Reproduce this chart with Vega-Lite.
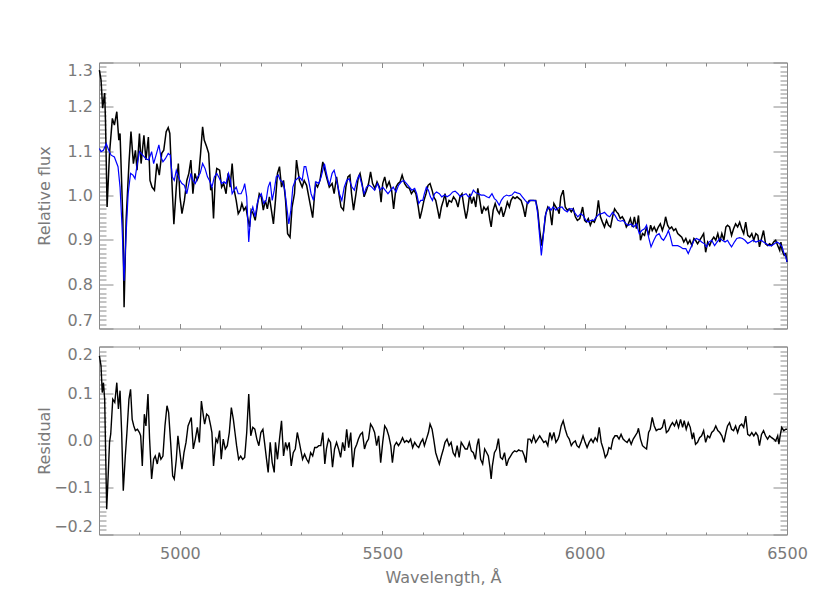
{
  "$schema": "https://vega.github.io/schema/vega-lite/v6.json",
  "padding": {"left": 36, "top": 58.5, "right": 5, "bottom": 5},
  "bounds": "flush",
  "spacing": 18,
  "datasets": {
    "obs": [
      {"w":4801,"f":1.283},{"w":4805,"f":1.261},{"w":4809,"f":1.197},{"w":4814,"f":1.231},{"w":4816,"f":1.170},{"w":4820,"f":0.974},{"w":4826,"f":1.095},{"w":4833,"f":1.174},{"w":4838,"f":1.159},{"w":4844,"f":1.189},{"w":4849,"f":1.125},{"w":4852,"f":1.140},{"w":4859,"f":0.944},{"w":4862,"f":0.748},{"w":4867,"f":0.944},{"w":4874,"f":1.072},{"w":4879,"f":1.144},{"w":4885,"f":1.072},{"w":4890,"f":1.102},{"w":4894,"f":1.057},{"w":4900,"f":1.140},{"w":4904,"f":1.072},{"w":4911,"f":1.136},{"w":4916,"f":1.080},{"w":4922,"f":1.132},{"w":4926,"f":1.034},{"w":4931,"f":1.019},{"w":4937,"f":1.012},{"w":4943,"f":1.072},{"w":4949,"f":1.046},{"w":4955,"f":1.095},{"w":4960,"f":1.102},{"w":4966,"f":1.144},{"w":4971,"f":1.153},{"w":4975,"f":1.140},{"w":4980,"f":1.034},{"w":4985,"f":0.935},{"w":4991,"f":1.019},{"w":4996,"f":1.072},{"w":5000,"f":0.997},{"w":5005,"f":0.959},{"w":5011,"f":0.989},{"w":5017,"f":1.034},{"w":5022,"f":1.050},{"w":5027,"f":1.080},{"w":5032,"f":1.004},{"w":5037,"f":1.050},{"w":5042,"f":1.034},{"w":5046,"f":1.042},{"w":5051,"f":1.095},{"w":5056,"f":1.155},{"w":5060,"f":1.125},{"w":5066,"f":1.110},{"w":5071,"f":1.095},{"w":5076,"f":1.012},{"w":5079,"f":1.019},{"w":5083,"f":0.948},{"w":5087,"f":1.034},{"w":5091,"f":1.061},{"w":5098,"f":1.057},{"w":5103,"f":1.019},{"w":5108,"f":1.027},{"w":5114,"f":1.004},{"w":5119,"f":1.050},{"w":5124,"f":1.019},{"w":5129,"f":1.072},{"w":5134,"f":1.012},{"w":5139,"f":0.989},{"w":5144,"f":0.959},{"w":5149,"f":0.967},{"w":5153,"f":0.982},{"w":5158,"f":0.967},{"w":5163,"f":0.974},{"w":5167,"f":0.952},{"w":5172,"f":0.929},{"w":5176,"f":0.967},{"w":5181,"f":0.959},{"w":5186,"f":0.944},{"w":5192,"f":0.982},{"w":5196,"f":1.004},{"w":5201,"f":0.997},{"w":5206,"f":0.967},{"w":5211,"f":0.989},{"w":5216,"f":0.970},{"w":5221,"f":0.997},{"w":5226,"f":0.967},{"w":5231,"f":0.936},{"w":5236,"f":0.989},{"w":5241,"f":1.050},{"w":5246,"f":1.065},{"w":5251,"f":1.019},{"w":5256,"f":1.034},{"w":5261,"f":0.989},{"w":5266,"f":0.914},{"w":5272,"f":0.906},{"w":5277,"f":0.974},{"w":5283,"f":1.004},{"w":5288,"f":1.080},
      {"w":5295,"f":1.035},{"w":5302,"f":1.019},{"w":5307,"f":1.034},{"w":5313,"f":1.023},{"w":5320,"f":0.989},{"w":5328,"f":0.950},{"w":5335,"f":1.027},{"w":5340,"f":1.019},{"w":5346,"f":1.034},{"w":5353,"f":1.076},{"w":5357,"f":1.061},{"w":5362,"f":1.042},{"w":5369,"f":1.019},{"w":5376,"f":1.027},{"w":5381,"f":1.004},{"w":5387,"f":1.042},{"w":5394,"f":0.997},{"w":5398,"f":0.974},{"w":5404,"f":0.967},{"w":5410,"f":1.019},{"w":5415,"f":1.042},{"w":5420,"f":1.046},{"w":5424,"f":1.004},{"w":5429,"f":0.967},{"w":5435,"f":1.004},{"w":5441,"f":1.042},{"w":5445,"f":1.050},{"w":5450,"f":1.027},{"w":5455,"f":0.997},{"w":5461,"f":1.012},{"w":5466,"f":1.027},{"w":5471,"f":1.053},{"w":5476,"f":1.027},{"w":5482,"f":1.016},{"w":5487,"f":1.031},{"w":5493,"f":1.019},{"w":5497,"f":0.985},{"w":5501,"f":1.027},{"w":5506,"f":1.042},{"w":5511,"f":1.019},{"w":5517,"f":1.031},{"w":5523,"f":1.012},{"w":5528,"f":0.970},{"w":5534,"f":1.019},{"w":5539,"f":1.027},{"w":5544,"f":1.031},{"w":5549,"f":1.046},{"w":5555,"f":1.027},{"w":5561,"f":1.019},{"w":5567,"f":1.016},{"w":5572,"f":1.004},{"w":5578,"f":1.012},{"w":5583,"f":1.004},{"w":5589,"f":0.974},{"w":5593,"f":0.948},{"w":5598,"f":0.967},{"w":5603,"f":0.989},{"w":5608,"f":1.004},{"w":5613,"f":1.023},{"w":5618,"f":1.027},{"w":5623,"f":1.012},{"w":5627,"f":0.997},{"w":5632,"f":0.989},{"w":5637,"f":0.967},{"w":5641,"f":0.948},{"w":5646,"f":0.974},{"w":5651,"f":0.989},{"w":5655,"f":1.004},{"w":5660,"f":0.974},{"w":5665,"f":0.989},{"w":5671,"f":0.985},{"w":5676,"f":0.997},{"w":5682,"f":0.989},{"w":5687,"f":0.974},{"w":5692,"f":0.997},{"w":5697,"f":1.004},{"w":5702,"f":0.974},{"w":5707,"f":0.948},{"w":5711,"f":0.967},{"w":5716,"f":1.004},{"w":5721,"f":0.982},{"w":5726,"f":0.997},{"w":5731,"f":0.974},{"w":5736,"f":1.016},{"w":5741,"f":0.989},{"w":5746,"f":0.959},{"w":5751,"f":0.974},{"w":5756,"f":0.967},{"w":5761,"f":0.974},{"w":5766,"f":0.944},{"w":5769,"f":0.929},{"w":5774,"f":0.967},{"w":5779,"f":0.982},{"w":5784,"f":0.967},{"w":5789,"f":0.959},{"w":5794,"f":0.974},{"w":5799,"f":0.952},{"w":5804,"f":0.967},{"w":5809,"f":0.985},{"w":5814,"f":0.974},{"w":5818,"f":0.989},{"w":5823,"f":0.997},{"w":5828,"f":0.993},{"w":5833,"f":0.997},{"w":5838,"f":0.993},{"w":5843,"f":0.989},{"w":5848,"f":0.974},{"w":5853,"f":0.952},{"w":5858,"f":0.982},{"w":5863,"f":0.989},{"w":5868,"f":0.989},{"w":5873,"f":0.989},{"w":5879,"f":0.989},{"w":5884,"f":0.967},{"w":5889,"f":0.921},{"w":5894,"f":0.887},{"w":5899,"f":0.921},{"w":5904,"f":0.959},{"w":5909,"f":0.974},{"w":5914,"f":0.967},{"w":5919,"f":0.933},{"w":5924,"f":0.982},{"w":5929,"f":0.974},{"w":5934,"f":0.967},
      {"w":5937,"f":0.959},{"w":5941,"f":0.997},{"w":5947,"f":1.012},{"w":5952,"f":0.974},{"w":5957,"f":0.967},{"w":5962,"f":0.970},{"w":5967,"f":0.963},{"w":5972,"f":0.970},{"w":5977,"f":0.952},{"w":5982,"f":0.944},{"w":5988,"f":0.948},{"w":5995,"f":0.974},{"w":6000,"f":0.944},{"w":6004,"f":0.940},{"w":6009,"f":0.948},{"w":6014,"f":0.933},{"w":6019,"f":0.944},{"w":6024,"f":0.940},{"w":6029,"f":0.952},{"w":6034,"f":0.989},{"w":6039,"f":0.952},{"w":6044,"f":0.940},{"w":6049,"f":0.929},{"w":6054,"f":0.944},{"w":6059,"f":0.933},{"w":6064,"f":0.929},{"w":6069,"f":0.952},{"w":6074,"f":0.970},{"w":6079,"f":0.963},{"w":6083,"f":0.959},{"w":6088,"f":0.948},{"w":6093,"f":0.952},{"w":6098,"f":0.944},{"w":6103,"f":0.929},{"w":6108,"f":0.936},{"w":6113,"f":0.948},{"w":6118,"f":0.929},{"w":6123,"f":0.952},{"w":6128,"f":0.925},{"w":6133,"f":0.955},{"w":6138,"f":0.899},{"w":6143,"f":0.914},{"w":6148,"f":0.910},{"w":6153,"f":0.929},{"w":6158,"f":0.910},{"w":6163,"f":0.933},{"w":6167,"f":0.921},{"w":6172,"f":0.929},{"w":6177,"f":0.918},{"w":6182,"f":0.929},{"w":6187,"f":0.936},{"w":6192,"f":0.921},{"w":6197,"f":0.936},{"w":6200,"f":0.952},{"w":6205,"f":0.933},{"w":6210,"f":0.925},{"w":6215,"f":0.929},{"w":6220,"f":0.921},{"w":6225,"f":0.925},{"w":6230,"f":0.914},{"w":6235,"f":0.910},{"w":6240,"f":0.906},{"w":6245,"f":0.895},{"w":6250,"f":0.903},{"w":6255,"f":0.891},{"w":6260,"f":0.899},{"w":6265,"f":0.887},{"w":6270,"f":0.903},{"w":6274,"f":0.899},{"w":6279,"f":0.891},{"w":6284,"f":0.899},{"w":6289,"f":0.906},{"w":6294,"f":0.914},{"w":6299,"f":0.872},{"w":6304,"f":0.895},{"w":6309,"f":0.887},{"w":6314,"f":0.899},{"w":6319,"f":0.906},{"w":6324,"f":0.899},{"w":6329,"f":0.914},{"w":6334,"f":0.895},{"w":6339,"f":0.914},{"w":6344,"f":0.899},{"w":6349,"f":0.929},{"w":6353,"f":0.933},{"w":6358,"f":0.929},{"w":6363,"f":0.910},{"w":6368,"f":0.925},{"w":6373,"f":0.936},{"w":6378,"f":0.929},{"w":6383,"f":0.940},{"w":6388,"f":0.925},{"w":6393,"f":0.914},{"w":6398,"f":0.940},{"w":6403,"f":0.910},{"w":6408,"f":0.906},{"w":6413,"f":0.914},{"w":6418,"f":0.899},{"w":6423,"f":0.914},{"w":6428,"f":0.910},{"w":6432,"f":0.884},{"w":6437,"f":0.903},{"w":6442,"f":0.921},{"w":6447,"f":0.891},{"w":6452,"f":0.887},{"w":6457,"f":0.891},{"w":6462,"f":0.887},{"w":6467,"f":0.895},{"w":6472,"f":0.899},{"w":6477,"f":0.887},{"w":6482,"f":0.876},{"w":6485,"f":0.895},{"w":6488,"f":0.876},{"w":6493,"f":0.865},{"w":6497,"f":0.869},{"w":6500,"f":0.850}
    ],
    "model": [
      {"w":4801,"f":1.106},{"w":4805,"f":1.099},{"w":4811,"f":1.102},{"w":4818,"f":1.117},{"w":4824,"f":1.102},{"w":4830,"f":1.091},{"w":4838,"f":1.087},{"w":4847,"f":1.065},{"w":4852,"f":1.019},{"w":4857,"f":0.929},{"w":4862,"f":0.808},{"w":4867,"f":0.914},{"w":4872,"f":1.004},{"w":4878,"f":1.050},{"w":4884,"f":1.046},{"w":4889,"f":1.038},{"w":4894,"f":1.068},{"w":4900,"f":1.099},{"w":4908,"f":1.091},{"w":4916,"f":1.083},{"w":4923,"f":1.080},{"w":4930,"f":1.099},{"w":4935,"f":1.072},{"w":4941,"f":1.091},{"w":4948,"f":1.114},{"w":4953,"f":1.087},{"w":4958,"f":1.076},{"w":4964,"f":1.083},{"w":4971,"f":1.095},{"w":4976,"f":1.091},{"w":4981,"f":1.042},{"w":4986,"f":1.034},{"w":4991,"f":1.057},{"w":4995,"f":1.046},{"w":5000,"f":1.034},{"w":5005,"f":1.027},{"w":5011,"f":1.023},{"w":5017,"f":1.004},{"w":5022,"f":1.027},{"w":5027,"f":1.050},{"w":5032,"f":1.034},{"w":5038,"f":1.027},{"w":5044,"f":1.042},{"w":5050,"f":1.050},{"w":5056,"f":1.072},{"w":5062,"f":1.061},{"w":5068,"f":1.042},{"w":5073,"f":1.034},{"w":5079,"f":1.019},{"w":5085,"f":1.042},{"w":5091,"f":1.050},{"w":5098,"f":1.038},{"w":5103,"f":1.027},{"w":5109,"f":1.031},{"w":5114,"f":1.027},{"w":5120,"f":1.050},{"w":5125,"f":1.034},{"w":5129,"f":1.004},{"w":5134,"f":1.012},{"w":5139,"f":1.019},{"w":5144,"f":1.004},{"w":5151,"f":1.004},{"w":5157,"f":1.016},{"w":5160,"f":1.027},{"w":5165,"f":0.997},{"w":5170,"f":0.895},{"w":5175,"f":0.959},{"w":5180,"f":0.974},{"w":5186,"f":0.952},{"w":5191,"f":0.982},{"w":5196,"f":0.997},{"w":5201,"f":1.004},{"w":5207,"f":0.982},{"w":5213,"f":0.989},{"w":5218,"f":1.019},{"w":5223,"f":1.031},{"w":5228,"f":0.989},{"w":5233,"f":1.012},{"w":5238,"f":1.042},{"w":5243,"f":1.046},{"w":5248,"f":1.034},{"w":5254,"f":1.031},{"w":5259,"f":1.012},{"w":5264,"f":0.974},{"w":5269,"f":0.936},{"w":5274,"f":0.967},{"w":5279,"f":1.019},{"w":5285,"f":1.034},
      {"w":5295,"f":1.042},{"w":5302,"f":1.034},{"w":5307,"f":1.065},{"w":5311,"f":1.065},{"w":5318,"f":1.034},{"w":5324,"f":1.004},{"w":5330,"f":0.989},{"w":5336,"f":1.031},{"w":5343,"f":1.027},{"w":5349,"f":1.042},{"w":5357,"f":1.072},{"w":5362,"f":1.050},{"w":5369,"f":1.023},{"w":5376,"f":1.050},{"w":5381,"f":1.057},{"w":5387,"f":1.034},{"w":5394,"f":1.004},{"w":5400,"f":0.989},{"w":5406,"f":1.019},{"w":5412,"f":1.034},{"w":5418,"f":1.038},{"w":5425,"f":1.019},{"w":5431,"f":1.012},{"w":5437,"f":1.034},{"w":5443,"f":1.046},{"w":5449,"f":1.027},{"w":5455,"f":1.004},{"w":5461,"f":1.019},{"w":5468,"f":1.023},{"w":5474,"f":1.019},{"w":5481,"f":1.012},{"w":5488,"f":1.027},{"w":5494,"f":1.012},{"w":5501,"f":1.019},{"w":5507,"f":1.012},{"w":5514,"f":1.004},{"w":5521,"f":1.012},{"w":5527,"f":1.019},{"w":5534,"f":1.008},{"w":5540,"f":1.023},{"w":5547,"f":1.031},{"w":5553,"f":1.034},{"w":5560,"f":1.027},{"w":5567,"f":1.019},{"w":5573,"f":1.012},{"w":5580,"f":1.016},{"w":5585,"f":1.004},{"w":5590,"f":0.982},{"w":5595,"f":0.989},{"w":5600,"f":0.989},{"w":5604,"f":1.004},{"w":5609,"f":1.019},{"w":5614,"f":1.012},{"w":5619,"f":0.997},{"w":5624,"f":0.989},{"w":5629,"f":1.004},{"w":5634,"f":1.008},{"w":5641,"f":1.004},{"w":5647,"f":0.997},{"w":5654,"f":1.001},{"w":5660,"f":0.997},{"w":5667,"f":1.001},{"w":5674,"f":1.008},{"w":5680,"f":1.010},{"w":5687,"f":1.004},{"w":5693,"f":0.997},{"w":5700,"f":1.001},{"w":5707,"f":1.004},{"w":5713,"f":0.997},{"w":5720,"f":1.001},{"w":5725,"f":1.012},{"w":5731,"f":1.006},{"w":5738,"f":1.004},{"w":5744,"f":1.001},{"w":5751,"f":1.001},{"w":5758,"f":0.997},{"w":5764,"f":0.995},{"w":5771,"f":1.004},{"w":5777,"f":0.993},{"w":5782,"f":0.989},{"w":5789,"f":0.978},{"w":5794,"f":0.989},{"w":5800,"f":0.997},{"w":5807,"f":1.001},{"w":5813,"f":0.999},{"w":5820,"f":1.001},{"w":5827,"f":1.008},{"w":5833,"f":1.006},{"w":5840,"f":1.004},{"w":5846,"f":0.997},{"w":5853,"f":0.989},{"w":5860,"f":0.982},{"w":5866,"f":0.989},{"w":5873,"f":0.989},{"w":5879,"f":0.988},{"w":5884,"f":0.959},{"w":5889,"f":0.906},{"w":5893,"f":0.865},{"w":5897,"f":0.899},{"w":5902,"f":0.952},{"w":5907,"f":0.967},{"w":5912,"f":0.974},{"w":5917,"f":0.967},{"w":5922,"f":0.974},{"w":5929,"f":0.967},{"w":5935,"f":0.972},
      {"w":5944,"f":0.974},{"w":5950,"f":0.967},{"w":5957,"f":0.963},{"w":5963,"f":0.970},{"w":5970,"f":0.970},{"w":5977,"f":0.959},{"w":5983,"f":0.952},{"w":5990,"f":0.959},{"w":5996,"f":0.955},{"w":6003,"f":0.944},{"w":6009,"f":0.940},{"w":6016,"f":0.944},{"w":6023,"f":0.944},{"w":6029,"f":0.952},{"w":6036,"f":0.958},{"w":6042,"f":0.959},{"w":6049,"f":0.962},{"w":6056,"f":0.955},{"w":6062,"f":0.952},{"w":6069,"f":0.962},{"w":6075,"f":0.955},{"w":6082,"f":0.944},{"w":6088,"f":0.942},{"w":6095,"f":0.944},{"w":6102,"f":0.936},{"w":6108,"f":0.933},{"w":6115,"f":0.936},{"w":6121,"f":0.929},{"w":6128,"f":0.936},{"w":6135,"f":0.914},{"w":6141,"f":0.921},{"w":6148,"f":0.925},{"w":6153,"f":0.933},{"w":6158,"f":0.906},{"w":6164,"f":0.884},{"w":6171,"f":0.899},{"w":6177,"f":0.910},{"w":6184,"f":0.914},{"w":6190,"f":0.903},{"w":6195,"f":0.899},{"w":6202,"f":0.910},{"w":6207,"f":0.921},{"w":6212,"f":0.906},{"w":6217,"f":0.887},{"w":6223,"f":0.887},{"w":6230,"f":0.887},{"w":6237,"f":0.884},{"w":6243,"f":0.880},{"w":6250,"f":0.880},{"w":6256,"f":0.869},{"w":6263,"f":0.884},{"w":6270,"f":0.899},{"w":6276,"f":0.903},{"w":6283,"f":0.900},{"w":6289,"f":0.895},{"w":6296,"f":0.891},{"w":6301,"f":0.884},{"w":6307,"f":0.895},{"w":6314,"f":0.899},{"w":6321,"f":0.887},{"w":6327,"f":0.895},{"w":6334,"f":0.903},{"w":6340,"f":0.899},{"w":6347,"f":0.895},{"w":6353,"f":0.899},{"w":6358,"f":0.891},{"w":6363,"f":0.884},{"w":6370,"f":0.895},{"w":6376,"f":0.903},{"w":6383,"f":0.905},{"w":6390,"f":0.903},{"w":6396,"f":0.899},{"w":6403,"f":0.892},{"w":6409,"f":0.895},{"w":6416,"f":0.899},{"w":6423,"f":0.895},{"w":6429,"f":0.897},{"w":6436,"f":0.899},{"w":6442,"f":0.895},{"w":6449,"f":0.891},{"w":6455,"f":0.887},{"w":6462,"f":0.887},{"w":6469,"f":0.891},{"w":6475,"f":0.895},{"w":6482,"f":0.891},{"w":6488,"f":0.884},{"w":6493,"f":0.869},{"w":6497,"f":0.862},{"w":6500,"f":0.850}
    ],
    "res": [
      {"w":4801,"r":0.180},{"w":4805,"r":0.159},{"w":4808,"r":0.102},{"w":4811,"r":0.123},{"w":4814,"r":0.088},{"w":4819,"r":-0.146},{"w":4823,"r":-0.068},{"w":4826,"r":-0.004},{"w":4829,"r":0.014},{"w":4834,"r":0.088},{"w":4839,"r":0.081},{"w":4844,"r":0.123},{"w":4848,"r":0.067},{"w":4852,"r":0.106},{"w":4856,"r":0.017},{"w":4860,"r":-0.107},{"w":4865,"r":-0.033},{"w":4869,"r":0.017},{"w":4874,"r":0.088},{"w":4878,"r":0.109},{"w":4882,"r":0.045},{"w":4886,"r":0.031},{"w":4890,"r":0.021},{"w":4895,"r":0.024},{"w":4900,"r":0.017},{"w":4903,"r":0.010},{"w":4907,"r":-0.054},{"w":4912,"r":0.056},{"w":4916,"r":0.031},{"w":4921,"r":0.099},{"w":4925,"r":0.003},{"w":4930,"r":-0.082},{"w":4935,"r":-0.040},{"w":4939,"r":-0.033},{"w":4944,"r":-0.050},{"w":4949,"r":-0.026},{"w":4953,"r":-0.040},{"w":4958,"r":-0.033},{"w":4963,"r":0.031},{"w":4968,"r":0.074},{"w":4972,"r":0.060},{"w":4977,"r":-0.004},{"w":4982,"r":-0.075},{"w":4986,"r":-0.082},{"w":4991,"r":-0.040},{"w":4995,"r":0.010},{"w":5000,"r":-0.026},{"w":5005,"r":-0.061},{"w":5010,"r":-0.026},{"w":5015,"r":-0.004},{"w":5020,"r":0.031},{"w":5025,"r":0.042},{"w":5028,"r":0.049},{"w":5033,"r":-0.018},{"w":5038,"r":0.003},{"w":5043,"r":0.028},{"w":5048,"r":-0.004},{"w":5053,"r":0.084},{"w":5058,"r":0.052},{"w":5061,"r":0.035},{"w":5066,"r":0.056},{"w":5071,"r":0.052},{"w":5076,"r":0.031},{"w":5079,"r":0.017},{"w":5083,"r":-0.054},{"w":5089,"r":0.003},{"w":5093,"r":-0.004},{"w":5098,"r":0.021},{"w":5102,"r":-0.040},{"w":5107,"r":0.003},{"w":5112,"r":-0.018},{"w":5117,"r":-0.011},{"w":5122,"r":0.017},{"w":5127,"r":0.070},{"w":5132,"r":0.045},{"w":5136,"r":0.017},{"w":5140,"r":-0.011},{"w":5145,"r":-0.040},{"w":5150,"r":-0.033},{"w":5155,"r":-0.040},{"w":5160,"r":-0.036},{"w":5165,"r":0.017},{"w":5170,"r":0.099},{"w":5175,"r":0.010},{"w":5180,"r":0.028},{"w":5185,"r":0.024},{"w":5190,"r":0.003},{"w":5195,"r":-0.011},{"w":5200,"r":0.017},{"w":5205,"r":0.024},{"w":5209,"r":-0.004},{"w":5214,"r":-0.040},{"w":5218,"r":-0.068},{"w":5223,"r":-0.004},{"w":5228,"r":-0.047},{"w":5233,"r":-0.068},{"w":5236,"r":-0.004},{"w":5241,"r":-0.040},{"w":5246,"r":0.003},{"w":5251,"r":0.042},{"w":5256,"r":-0.033},{"w":5261,"r":-0.004},{"w":5265,"r":-0.018},{"w":5270,"r":-0.004},{"w":5275,"r":-0.054},{"w":5280,"r":-0.026},{"w":5285,"r":-0.018},{"w":5290,"r":0.017},
      {"w":5295,"r":-0.004},{"w":5303,"r":-0.040},{"w":5308,"r":-0.029},{"w":5313,"r":-0.040},{"w":5318,"r":-0.047},{"w":5323,"r":-0.026},{"w":5328,"r":-0.033},{"w":5333,"r":-0.015},{"w":5338,"r":-0.015},{"w":5343,"r":-0.011},{"w":5348,"r":-0.011},{"w":5353,"r":0.017},{"w":5358,"r":-0.050},{"w":5362,"r":-0.018},{"w":5367,"r":0.003},{"w":5372,"r":-0.004},{"w":5377,"r":-0.057},{"w":5382,"r":-0.018},{"w":5387,"r":-0.004},{"w":5392,"r":-0.018},{"w":5397,"r":-0.036},{"w":5402,"r":-0.004},{"w":5407,"r":-0.022},{"w":5412,"r":0.024},{"w":5417,"r":-0.015},{"w":5422,"r":0.017},{"w":5427,"r":-0.057},{"w":5432,"r":-0.018},{"w":5437,"r":-0.008},{"w":5441,"r":0.003},{"w":5446,"r":0.013},{"w":5451,"r":0.017},{"w":5456,"r":-0.018},{"w":5461,"r":-0.004},{"w":5466,"r":0.003},{"w":5471,"r":0.035},{"w":5476,"r":0.028},{"w":5481,"r":0.017},{"w":5486,"r":-0.011},{"w":5491,"r":0.010},{"w":5496,"r":-0.047},{"w":5501,"r":-0.004},{"w":5506,"r":0.031},{"w":5511,"r":0.024},{"w":5516,"r":0.010},{"w":5521,"r":-0.011},{"w":5525,"r":-0.047},{"w":5530,"r":-0.011},{"w":5535,"r":-0.004},{"w":5540,"r":-0.011},{"w":5545,"r":-0.004},{"w":5550,"r":0.006},{"w":5555,"r":-0.004},{"w":5560,"r":0.000},{"w":5565,"r":-0.004},{"w":5570,"r":0.003},{"w":5575,"r":-0.015},{"w":5580,"r":-0.004},{"w":5585,"r":-0.011},{"w":5590,"r":-0.015},{"w":5595,"r":-0.004},{"w":5600,"r":0.003},{"w":5604,"r":-0.011},{"w":5609,"r":0.003},{"w":5614,"r":0.017},{"w":5618,"r":0.035},{"w":5623,"r":0.024},{"w":5627,"r":0.003},{"w":5632,"r":-0.026},{"w":5637,"r":-0.040},{"w":5641,"r":-0.050},{"w":5646,"r":-0.033},{"w":5651,"r":-0.018},{"w":5655,"r":-0.004},{"w":5660,"r":0.003},{"w":5665,"r":-0.011},{"w":5670,"r":-0.004},{"w":5675,"r":-0.026},{"w":5680,"r":-0.033},{"w":5685,"r":-0.011},{"w":5690,"r":-0.036},{"w":5695,"r":-0.004},{"w":5700,"r":-0.011},{"w":5705,"r":-0.018},{"w":5710,"r":-0.018},{"w":5715,"r":-0.004},{"w":5720,"r":-0.022},{"w":5725,"r":-0.026},{"w":5730,"r":-0.040},{"w":5734,"r":-0.011},{"w":5738,"r":0.004},{"w":5743,"r":-0.040},{"w":5748,"r":-0.050},{"w":5753,"r":-0.018},{"w":5758,"r":-0.026},{"w":5762,"r":-0.033},{"w":5766,"r":-0.057},{"w":5769,"r":-0.082},{"w":5772,"r":-0.054},{"w":5777,"r":-0.026},{"w":5782,"r":-0.018},{"w":5787,"r":0.004},{"w":5792,"r":-0.036},{"w":5797,"r":-0.040},{"w":5802,"r":-0.026},{"w":5807,"r":-0.054},{"w":5812,"r":-0.040},{"w":5817,"r":-0.033},{"w":5822,"r":-0.026},{"w":5827,"r":-0.022},{"w":5832,"r":-0.024},{"w":5837,"r":-0.020},{"w":5841,"r":-0.022},{"w":5846,"r":-0.022},{"w":5851,"r":-0.033},{"w":5855,"r":-0.047},{"w":5860,"r":0.003},{"w":5865,"r":0.003},{"w":5869,"r":-0.004},{"w":5874,"r":0.010},{"w":5879,"r":-0.004},{"w":5884,"r":0.003},{"w":5889,"r":0.010},{"w":5894,"r":0.003},{"w":5899,"r":-0.004},{"w":5904,"r":-0.001},{"w":5909,"r":-0.011},{"w":5914,"r":0.017},{"w":5919,"r":0.003},{"w":5924,"r":0.017},{"w":5929,"r":-0.004},{"w":5934,"r":0.003},
      {"w":5937,"r":0.010},{"w":5942,"r":0.031},{"w":5947,"r":0.042},{"w":5952,"r":0.024},{"w":5957,"r":0.010},{"w":5962,"r":0.003},{"w":5967,"r":-0.011},{"w":5972,"r":-0.004},{"w":5977,"r":-0.001},{"w":5981,"r":-0.011},{"w":5986,"r":-0.015},{"w":5991,"r":-0.004},{"w":5996,"r":0.010},{"w":6001,"r":-0.004},{"w":6006,"r":-0.015},{"w":6011,"r":-0.004},{"w":6016,"r":0.003},{"w":6021,"r":-0.004},{"w":6026,"r":0.006},{"w":6031,"r":-0.001},{"w":6036,"r":0.028},{"w":6041,"r":-0.004},{"w":6046,"r":-0.018},{"w":6051,"r":-0.036},{"w":6056,"r":-0.029},{"w":6060,"r":-0.015},{"w":6065,"r":-0.018},{"w":6070,"r":0.003},{"w":6075,"r":0.010},{"w":6080,"r":0.010},{"w":6085,"r":0.003},{"w":6090,"r":0.013},{"w":6095,"r":0.003},{"w":6100,"r":-0.001},{"w":6105,"r":-0.004},{"w":6110,"r":0.003},{"w":6115,"r":-0.008},{"w":6120,"r":0.003},{"w":6125,"r":0.010},{"w":6130,"r":0.017},{"w":6133,"r":0.026},{"w":6138,"r":0.003},{"w":6143,"r":-0.011},{"w":6148,"r":-0.015},{"w":6153,"r":-0.018},{"w":6158,"r":0.017},{"w":6162,"r":0.024},{"w":6167,"r":0.049},{"w":6172,"r":0.031},{"w":6177,"r":0.021},{"w":6182,"r":0.024},{"w":6187,"r":0.024},{"w":6192,"r":0.028},{"w":6197,"r":0.045},{"w":6202,"r":0.017},{"w":6207,"r":0.021},{"w":6212,"r":0.031},{"w":6217,"r":0.038},{"w":6222,"r":0.031},{"w":6227,"r":0.042},{"w":6232,"r":0.028},{"w":6237,"r":0.045},{"w":6242,"r":0.028},{"w":6246,"r":0.042},{"w":6251,"r":0.024},{"w":6256,"r":0.038},{"w":6261,"r":0.028},{"w":6266,"r":0.003},{"w":6269,"r":0.017},{"w":6274,"r":-0.008},{"w":6279,"r":-0.004},{"w":6284,"r":0.006},{"w":6289,"r":0.010},{"w":6294,"r":0.021},{"w":6299,"r":-0.004},{"w":6304,"r":0.010},{"w":6309,"r":0.006},{"w":6314,"r":0.017},{"w":6319,"r":0.021},{"w":6324,"r":0.031},{"w":6329,"r":0.021},{"w":6334,"r":0.017},{"w":6339,"r":0.010},{"w":6344,"r":-0.004},{"w":6349,"r":0.017},{"w":6353,"r":0.031},{"w":6358,"r":0.038},{"w":6363,"r":0.024},{"w":6368,"r":0.021},{"w":6373,"r":0.031},{"w":6378,"r":0.017},{"w":6383,"r":0.031},{"w":6388,"r":0.035},{"w":6393,"r":0.028},{"w":6398,"r":0.052},{"w":6403,"r":0.013},{"w":6408,"r":0.010},{"w":6413,"r":0.017},{"w":6418,"r":0.010},{"w":6423,"r":0.017},{"w":6428,"r":0.010},{"w":6432,"r":-0.011},{"w":6437,"r":0.013},{"w":6442,"r":0.021},{"w":6447,"r":0.010},{"w":6452,"r":0.003},{"w":6457,"r":0.010},{"w":6462,"r":0.006},{"w":6467,"r":0.003},{"w":6472,"r":-0.001},{"w":6477,"r":0.010},{"w":6480,"r":-0.008},{"w":6483,"r":0.010},{"w":6487,"r":0.028},{"w":6492,"r":0.021},{"w":6497,"r":0.024},{"w":6500,"r":0.024}
    ]
  },
  "vconcat": [
    {
      "width": 688,
      "height": 266,
      "layer": [
        {
          "data": {"name": "obs"},
          "mark": {"type": "line", "color": "#000000", "strokeWidth": 1.5},
          "encoding": {
            "x": {"field": "w", "type": "quantitative", "scale": {"domain": [4800, 6500], "nice": false, "zero": false},
              "axis": {"orient": "bottom", "values": [4800,4900,5000,5100,5200,5300,5400,5500,5600,5700,5800,5900,6000,6100,6200,6300,6400,6500], "labels": false, "title": null,
                "tickSize": {"condition": {"test": "datum.value % 500 === 0", "value": -5}, "value": -3.5}}},
            "y": {"field": "f", "type": "quantitative", "scale": {"domain": [0.7, 1.3], "nice": false, "zero": false},
              "axis": {"orient": "left", "values": [0.7,0.71,0.72,0.73,0.74,0.75,0.76,0.77,0.78,0.79,0.8,0.81,0.82,0.83,0.84,0.85,0.86,0.87,0.88,0.89,0.9,0.91,0.92,0.93,0.94,0.95,0.96,0.97,0.98,0.99,1.0,1.01,1.02,1.03,1.04,1.05,1.06,1.07,1.08,1.09,1.1,1.11,1.12,1.13,1.14,1.15,1.16,1.17,1.18,1.19,1.2,1.21,1.22,1.23,1.24,1.25,1.26,1.27,1.28,1.29,1.3],
                "labelExpr": "abs(datum.value*10 - round(datum.value*10)) < 0.001 ? format(datum.value, '.1f') : ''",
                "labelFlush": true, "labelPadding": 20.5,
                "tickSize": {"condition": {"test": "abs(datum.value*10 - round(datum.value*10)) < 0.001", "value": -14}, "value": -7},
                "title": "Relative flux", "titleX": -54.5, "titleY": 133, "titleAngle": -90, "titleBaseline": "middle", "titleAlign": "center"}}
          }
        },
        {
          "data": {"name": "model"},
          "mark": {"type": "line", "color": "#0000ff", "strokeWidth": 1.2},
          "encoding": {
            "x": {"field": "w", "type": "quantitative", "scale": {"domain": [4800, 6500], "nice": false, "zero": false},
              "axis": {"orient": "top", "values": [4800,4900,5000,5100,5200,5300,5400,5500,5600,5700,5800,5900,6000,6100,6200,6300,6400,6500], "labels": false, "title": null,
                "tickSize": {"condition": {"test": "datum.value % 500 === 0", "value": -5}, "value": -3.5}}},
            "y": {"field": "f", "type": "quantitative", "scale": {"domain": [0.7, 1.3], "nice": false, "zero": false},
              "axis": {"orient": "right", "values": [0.7,0.71,0.72,0.73,0.74,0.75,0.76,0.77,0.78,0.79,0.8,0.81,0.82,0.83,0.84,0.85,0.86,0.87,0.88,0.89,0.9,0.91,0.92,0.93,0.94,0.95,0.96,0.97,0.98,0.99,1.0,1.01,1.02,1.03,1.04,1.05,1.06,1.07,1.08,1.09,1.1,1.11,1.12,1.13,1.14,1.15,1.16,1.17,1.18,1.19,1.2,1.21,1.22,1.23,1.24,1.25,1.26,1.27,1.28,1.29,1.3],
                "labels": false, "title": null,
                "tickSize": {"condition": {"test": "abs(datum.value*10 - round(datum.value*10)) < 0.001", "value": -14}, "value": -7}}}
          }
        }
      ],
      "resolve": {"axis": {"x": "independent", "y": "independent"}}
    },
    {
      "width": 688,
      "height": 188,
      "layer": [
        {
          "data": {"name": "res"},
          "mark": {"type": "line", "color": "#000000", "strokeWidth": 1.4},
          "encoding": {
            "x": {"field": "w", "type": "quantitative", "scale": {"domain": [4800, 6500], "nice": false, "zero": false},
              "axis": {"orient": "bottom", "values": [4800,4900,5000,5100,5200,5300,5400,5500,5600,5700,5800,5900,6000,6100,6200,6300,6400,6500],
                "labelExpr": "datum.value % 500 === 0 ? format(datum.value, 'd') : ''", "labelPadding": 15, "labelFlush": false,
                "tickSize": {"condition": {"test": "datum.value % 500 === 0", "value": -4}, "value": -2.5},
                "title": "Wavelength, Å", "titlePadding": 6}},
            "y": {"field": "r", "type": "quantitative", "scale": {"domain": [-0.2, 0.2], "nice": false, "zero": false},
              "axis": {"orient": "left", "values": [-0.2,-0.19,-0.18,-0.17,-0.16,-0.15,-0.14,-0.13,-0.12,-0.11,-0.1,-0.09,-0.08,-0.07,-0.06,-0.05,-0.04,-0.03,-0.02,-0.01,0,0.01,0.02,0.03,0.04,0.05,0.06,0.07,0.08,0.09,0.1,0.11,0.12,0.13,0.14,0.15,0.16,0.17,0.18,0.19,0.2],
                "labelExpr": "abs(datum.value*10 - round(datum.value*10)) < 0.001 ? format(datum.value, '.1f') : ''",
                "labelFlush": true, "labelPadding": 20.5,
                "tickSize": {"condition": {"test": "abs(datum.value*10 - round(datum.value*10)) < 0.001", "value": -14}, "value": -7},
                "title": "Residual", "titleX": -54.5, "titleY": 94, "titleAngle": -90, "titleBaseline": "middle", "titleAlign": "center"}}
          }
        },
        {
          "data": {"name": "res"},
          "mark": {"type": "line", "color": "#000000", "strokeWidth": 1, "opacity": 0},
          "encoding": {
            "x": {"field": "w", "type": "quantitative", "scale": {"domain": [4800, 6500], "nice": false, "zero": false},
              "axis": {"orient": "top", "values": [4800,4900,5000,5100,5200,5300,5400,5500,5600,5700,5800,5900,6000,6100,6200,6300,6400,6500], "labels": false, "title": null,
                "tickSize": {"condition": {"test": "datum.value % 500 === 0", "value": -4}, "value": -2.5}}},
            "y": {"field": "r", "type": "quantitative", "scale": {"domain": [-0.2, 0.2], "nice": false, "zero": false},
              "axis": {"orient": "right", "values": [-0.2,-0.19,-0.18,-0.17,-0.16,-0.15,-0.14,-0.13,-0.12,-0.11,-0.1,-0.09,-0.08,-0.07,-0.06,-0.05,-0.04,-0.03,-0.02,-0.01,0,0.01,0.02,0.03,0.04,0.05,0.06,0.07,0.08,0.09,0.1,0.11,0.12,0.13,0.14,0.15,0.16,0.17,0.18,0.19,0.2],
                "labels": false, "title": null,
                "tickSize": {"condition": {"test": "abs(datum.value*10 - round(datum.value*10)) < 0.001", "value": -14}, "value": -7}}}
          }
        }
      ],
      "resolve": {"axis": {"x": "independent", "y": "independent"}}
    }
  ],
  "config": {
    "view": {"stroke": null},
    "axis": {
      "grid": false,
      "domainColor": "#8a8a8a",
      "domainWidth": 1,
      "tickColor": "#8a8a8a",
      "tickWidth": 1,
      "labelColor": "#7a7a7a",
      "titleColor": "#7a7a7a",
      "labelFont": "DejaVu Sans",
      "titleFont": "DejaVu Sans",
      "labelFontSize": 16,
      "titleFontSize": 16,
      "titleFontWeight": "normal",
      "labelOverlap": false,
      "labelBound": false
    }
  }
}
